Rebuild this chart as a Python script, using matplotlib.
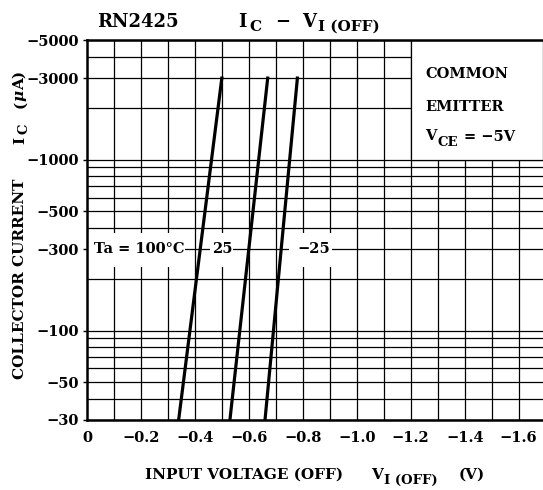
import numpy as np
import matplotlib.pyplot as plt
from matplotlib.patches import Rectangle

plt.rcParams['font.family'] = ['DejaVu Serif']
plt.rcParams['font.weight'] = 'bold'

# curves: Ta label, V_I(OFF) at 30 uA and at 3000 uA
temps = ['Ta = 100°C', '25', '−25']
ic = [30, 3000]
vi_100 = [-0.34, -0.50]
vi_25 = [-0.53, -0.67]
vi_m25 = [-0.66, -0.78]
label_x = [-0.195, -0.50, -0.84]
# white gaps behind the temperature labels (x from, x to)
gaps = [(0.0, -0.365), (-0.455, -0.54), (-0.75, -0.91)]

yticks = [5000, 3000, 1000, 500, 300, 100, 50, 30]
xticks = [0, -0.2, -0.4, -0.6, -0.8, -1.0, -1.2, -1.4, -1.6]
ygrid = [30, 40, 50, 60, 70, 80, 90, 100, 200, 300, 400, 500, 600, 700, 800, 900,
         1000, 2000, 3000, 4000, 5000]

W, H = 543, 490
fig = plt.figure(figsize=(W / 100, H / 100), dpi=100)
ax = fig.add_axes([0.160, 0.143, 0.840, 0.775])
ax.set_yscale('log')
xmax = -1.69
ax.set_xlim(0, xmax)
ax.set_ylim(30, 5000)


def put(x, y, s, size, rot=0, style='normal'):
    # text placed at pixel position (from top-left), left/baseline anchored
    fig.text(x / W, 1 - y / H, s, fontsize=size, ha='left', va='baseline',
             rotation=rot, rotation_mode='anchor', fontstyle=style)


# grid
for v in np.arange(-0.1, -1.69, -0.1):
    ax.axvline(v, color='black', lw=0.9, zorder=1)
for y in ygrid:
    ax.axhline(y, color='black', lw=0.9, zorder=1)

# text box region
ax.add_patch(Rectangle((-1.2, 1000), xmax + 1.2, 4000, facecolor='white',
                       edgecolor='black', lw=0.9, zorder=2))
fs = 10.5
put(425, 78, 'COMMON', fs)
put(425, 111, 'EMITTER', fs)
put(425, 140, 'V', fs)
put(438, 146, 'CE', 9.5)
put(464, 141, '= −5V', fs)

for g in gaps:
    ax.add_patch(Rectangle((g[0], 235), g[1] - g[0], 372 - 235, facecolor='white',
                           edgecolor='none', zorder=2))

for vi in [vi_100, vi_25, vi_m25]:
    ax.plot(vi, ic, color='black', lw=2.3, zorder=4)

for t, lx in zip(temps, label_x):
    ax.text(lx, 300, t, fontsize=fs, ha='center', va='center', zorder=5)

ax.set_yticks(yticks)
ax.set_yticklabels(['−%d' % y for y in yticks], fontsize=fs)
ax.minorticks_off()
ax.set_xticks(xticks)
ax.set_xticklabels(['0'] + ['−%.1f' % -x for x in xticks[1:]], fontsize=fs)
ax.tick_params(length=3, width=1, pad=3)
ax.tick_params(axis='x', length=0, pad=8)

for s in ['left', 'bottom', 'top']:
    ax.spines[s].set_linewidth(1.8)
ax.spines['right'].set_visible(False)

# title
put(97, 27, 'RN2425', 13)
put(238, 27, 'I', 13)
put(249, 31, 'C', 11)
put(275, 27, '−', 13)
put(302, 27, 'V', 13)
put(318, 31, 'I (OFF)', 11)

# y label (rotated)
put(24, 379, 'COLLECTOR CURRENT', 11, rot=90)
put(24, 144, 'I', 11, rot=90)
put(28, 134, 'C', 9.5, rot=90)
put(24, 108, '(', 11, rot=90)
put(24, 101, 'μ', 11, rot=90, style='italic')
put(24, 90, 'A)', 11, rot=90)

# x label
put(145, 479, 'INPUT VOLTAGE (OFF)', 11)
put(371, 479, 'V', 11)
put(384, 484, 'I (OFF)', 9.5)
put(459, 479, '(V)', 11)

plt.savefig('out.png', dpi=100)
